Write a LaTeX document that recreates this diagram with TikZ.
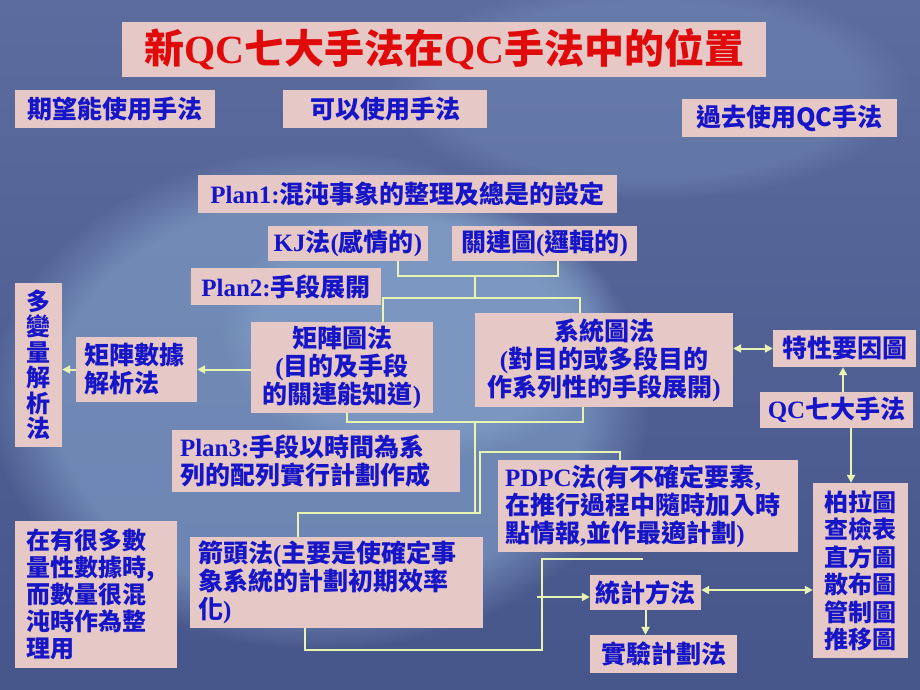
\documentclass[tikz,border=0pt]{standalone}
\usepackage{fontspec}
\newfontfamily\cjk{Noto Sans CJK TC}
\newfontfamily\latf{Liberation Serif}
\newcommand\latx[1]{{\latf\bfseries #1}}
\usetikzlibrary{arrows.meta,fadings}
\definecolor{boxpink}{HTML}{E6C9C6}
\definecolor{txtblue}{HTML}{1616C8}
\definecolor{ttlred}{HTML}{E00A0A}
\definecolor{linec}{HTML}{E8F4B2}
\definecolor{bgA}{HTML}{5C6C9E}
\definecolor{bgB}{HTML}{46558A}
\definecolor{bgL}{HTML}{8AAAD0}
\begin{document}
\begin{tikzpicture}[x=1pt,y=-1pt,
  bx/.style={fill=boxpink, inner sep=0pt, text=txtblue, align=center,
     font=\cjk\bfseries\fontsize{25}{28}\selectfont},
  lbx/.style={bx, align=left},
  conn/.style={draw=linec, line width=2pt},
  arr/.style={conn, -{Triangle[length=8pt,width=8pt]}},
  darr/.style={conn, {Triangle[length=8pt,width=8pt]}-{Triangle[length=8pt,width=8pt]}},
  glow/.style={fill=bgL, path fading=circle with fuzzy edge 20 percent}]
\useasboundingbox (0,0) rectangle (920,690);
% background
\shade[top color=bgA, bottom color=bgB] (0,0) rectangle (920,690);
\fill[glow, fill opacity=0.55] (320,400) ellipse [x radius=330pt, y radius=250pt];
\fill[glow, fill opacity=0.45] (420,330) ellipse [x radius=200pt, y radius=130pt];
\fill[glow, fill opacity=0.25] (650,90) ellipse [x radius=260pt, y radius=110pt];

% nodes
\node[bx, minimum width=644pt, minimum height=55pt, text=ttlred,
  font=\cjk\bfseries\fontsize{40}{44}\selectfont] (title) at (444,49.5)
  {新\latx{QC}七大手法在\latx{QC}手法中的位置};
\node[bx, minimum width=200pt, minimum height=38pt] (want) at (115,109) {期望能使用手法};
\node[bx, minimum width=204pt, minimum height=38pt] (can) at (385,109) {可以使用手法};
\node[bx, minimum width=215pt, minimum height=38pt] (past) at (789.5,118) {過去使用QC手法};
\node[bx, minimum width=419pt, minimum height=38pt] (plan1) at (407.5,194) {\latx{Plan1:}混沌事象的整理及總是的設定};
\node[bx, minimum width=160pt, minimum height=35pt] (kj) at (348,243.5) {\latx{KJ}法\latx{(}感情的\latx{)}};
\node[bx, minimum width=185pt, minimum height=35pt] (rel) at (544.5,243.5) {關連圖\latx{(}邏輯的\latx{)}};
\node[bx, minimum width=190pt, minimum height=37pt] (plan2) at (286,286.5) {\latx{Plan2:}手段展開};
\node[bx, minimum width=182pt, minimum height=91pt] (mat) at (342,367.5) {矩陣圖法\\\latx{(}目的及手段\\的關連能知道\latx{)}};
\node[bx, minimum width=258pt, minimum height=94pt] (sys) at (604,360) {系統圖法\\\latx{(}對目的或多段目的\\作系列性的手段展開\latx{)}};
\node[lbx, text width=105pt, inner xsep=8pt, minimum height=65pt] (mda) at (136.5,369.5) {矩陣數據\\解析法};
\node[bx, text width=47pt, minimum height=164pt,
  font=\cjk\bfseries\fontsize{24}{25.5}\selectfont] (mva) at (38.5,365) {多\\變\\量\\解\\析\\法};
\node[bx, minimum width=143pt, minimum height=37pt] (tok) at (844.5,348.5) {特性要因圖};
\node[bx, minimum width=153pt, minimum height=36pt] (qc7) at (836.5,410) {\latx{QC}七大手法};
\node[bx, text width=95pt, minimum height=175pt,
  font=\cjk\bfseries\fontsize{24}{27.5}\selectfont] (pareto) at (860.5,570.5) {柏拉圖\\查檢表\\直方圖\\散布圖\\管制圖\\推移圖};
\node[lbx, text width=272pt, inner xsep=8pt, minimum height=62pt] (plan3) at (316,461) {\latx{Plan3:}手段以時間為系\\列的配列實行計劃作成};
\node[lbx, text width=286pt, inner xsep=7pt, minimum height=92pt] (pdpc) at (648,506) {\latx{PDPC}法\latx{(}有不確定要素\latx{,}\\在推行過程中隨時加入時\\點情報\latx{,}並作最適計劃\latx{)}};
\node[lbx, text width=277pt, inner xsep=8pt, minimum height=91pt] (arrow) at (336.5,582.5) {箭頭法\latx{(}主要是使確定事\\象系統的計劃初期效率\\化\latx{)}};
\node[bx, minimum width=111pt, minimum height=35pt] (stat) at (645.5,592.5) {統計方法};
\node[bx, minimum width=147pt, minimum height=38pt] (exp) at (663.5,654) {實驗計劃法};
\node[lbx, text width=140pt, inner xsep=11pt, minimum height=147pt,
  font=\cjk\bfseries\fontsize{24}{27}\selectfont] (note) at (96,594.5) {在有很多數\\量性數據時,\\而數量很混\\沌時作為整\\理用};

% junction coordinates
\coordinate (k1) at (398,276);
\coordinate (k2) at (558,276);
\coordinate (j0) at (475,276);
\coordinate (j1) at (475,298);
\coordinate (m1) at (383,298);
\coordinate (s1) at (580,298);
\coordinate (m2) at (347,422);
\coordinate (s2) at (583,422);
\coordinate (t0) at (475,422);
\coordinate (t1) at (475,513);
\coordinate (a1) at (298,513);
\coordinate (p1) at (480,513);
\coordinate (p2) at (480,452);
\coordinate (p3) at (620,452);
\coordinate (b1) at (305,650);
\coordinate (b2) at (542,650);
\coordinate (b3) at (542,559);
\coordinate (b4) at (643,559);
\coordinate (h0) at (537,597);
\coordinate (d1) at (760,590);

% connectors
\draw[conn] (kj.south -| k1) -- (k1) -- (k2) -- (rel.south -| k2);
\draw[conn] (j0) -- (j1);
\draw[conn] (mat.north -| m1) -- (m1) -- (s1) -- (sys.north -| s1);
\draw[conn] (mat.south -| m2) -- (m2) -- (s2) -- (sys.south -| s2);
\draw[conn] (t0) -- (t1);
\draw[conn] (arrow.north -| a1) -- (a1) -- (p1) -- (p2) -- (p3) -- (pdpc.north -| p3);
\draw[conn] (arrow.south -| b1) -- (b1) -- (b2) -- (b3) -- (b4);
\draw[arr] (h0) -- (stat.west |- h0);
\draw[darr] (stat.east |- d1) -- (pareto.west |- d1);
\draw[arr] (stat.south) -- (stat.south |- exp.north);
\draw[arr] ([xshift=6.5pt]qc7.north) -- ([xshift=6.5pt]qc7.north |- tok.south);
\draw[arr] ([xshift=14.5pt]qc7.south) -- ([xshift=14.5pt]qc7.south |- pareto.north);
\draw[darr] (sys.east |- tok.west) -- (tok.west);
\draw[arr] (mat.west |- mda.east) -- (mda.east);
\draw[arr] (mda.west) -- (mda.west -| mva.east);
\end{tikzpicture}
\end{document}
